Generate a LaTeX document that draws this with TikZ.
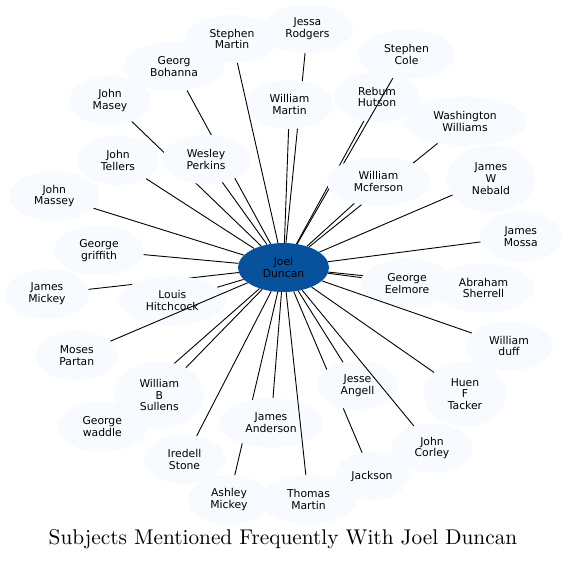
\documentclass[tikz,border=0pt]{standalone}
\usepackage{fontspec}
\newfontfamily\nodefont{DejaVu Sans}
\newfontfamily\titlefont{lmroman10-regular}[Extension=.otf]
\usetikzlibrary{shapes.geometric}
\definecolor{nodefill}{HTML}{F7FBFF}
\definecolor{centerfill}{HTML}{08519C}
\pgfdeclarelayer{under}
\pgfdeclarelayer{over}
\pgfdeclarelayer{top}
\pgfsetlayers{under,main,over,top}
\tikzset{
  person/.style={ellipse, fill=nodefill, inner sep=0pt, align=center,
    font=\nodefont\fontsize{10.8}{11.8}\selectfont},
  sz/.style 2 args={minimum width=#1pt, minimum height=#2pt},
  link/.style={draw=black, line width=0.9pt},
  titletext/.style={inner sep=0pt, font=\titlefont\fontsize{21.3}{24}\selectfont}
}
\begin{document}
\begin{tikzpicture}[x=1pt,y=-1pt]
\useasboundingbox (0,0) rectangle (567,560);
% nodes
\node[person, sz={91}{49}, fill=centerfill] (joel) at (283.5,267.5) {Joel\\Duncan};
\node[person, sz={94}{48}] (smartin) at (232,39) {Stephen\\Martin};
\node[person, sz={91}{48}] (jrodgers) at (307.5,29) {Jessa\\Rodgers};
\node[person, sz={97}{49}] (scole) at (406.5,54.5) {Stephen\\Cole};
\node[person, sz={100}{49}] (gbohanna) at (174,66.5) {Georg\\Bohanna};
\node[person, sz={87}{49}] (wmartin) at (289.5,104.5) {William\\Martin};
\node[person, sz={86}{50}] (rhutson) at (377,97) {Rebum\\Hutson};
\node[person, sz={82}{49}] (jmasey) at (110,100.5) {John\\Masey};
\node[person, sz={123}{49}] (wwilliams) at (465,121.3) {Washington\\Williams};
\node[person, sz={88}{49}] (wperkins) at (206,159.5) {Wesley\\Perkins};
\node[person, sz={82}{49}] (jtellers) at (118,160.5) {John\\Tellers};
\begin{pgfonlayer}{top}
\node[person, sz={103}{49}] (mcferson) at (378.5,181.5) {William\\Mcferson};
\end{pgfonlayer}
\node[person, sz={88}{67}] (nebald) at (491,178.5) {James\\W\\Nebald};
\node[person, sz={90}{49}] (jmassey) at (54.3,196) {John\\Massey};
\node[person, sz={82}{50}] (jmossa) at (520.8,236.7) {James\\Mossa};
\node[person, sz={90}{49}] (ggriffith) at (99,250.5) {George\\griffith};
\node[person, sz={101}{49}] (sherrell) at (483.5,288) {Abraham\\Sherrell};
\node[person, sz={93}{49}] (eelmore) at (407,283.5) {George\\Eelmore};
\node[person, sz={84}{50}] (jmickey) at (47,294) {James\\Mickey};
\node[person, sz={107}{49}] (hitchcock) at (172.3,300.7) {Louis\\Hitchcock};
\node[person, sz={87}{49}] (duff) at (509,346) {William\\duff};
\node[person, sz={82}{49}] (partan) at (76.8,355.5) {Moses\\Partan};
\node[person, sz={80}{49}] (angell) at (357.5,385.3) {Jesse\\Angell};
\node[person, sz={82}{65}] (tacker) at (465,394) {Huen\\F\\Tacker};
\node[person, sz={90}{50}] (waddle) at (102.3,426.7) {George\\waddle};
\node[person, sz={90}{67}] (sullens) at (159.3,395) {William\\B\\Sullens};
\node[person, sz={104}{49}] (anderson) at (271,422.8) {James\\Anderson};
\node[person, sz={81}{49}] (corley) at (432,448) {John\\Corley};
\node[person, sz={81}{49}] (istone) at (184.5,459.5) {Iredell\\Stone};
\node[person, sz={74}{48}] (jackson) at (372,476) {Jackson};
\node[person, sz={82}{49}] (amickey) at (229,499.7) {Ashley\\Mickey};
\node[person, sz={96}{49}] (tmartin) at (308.5,499.7) {Thomas\\Martin};
\node[titletext] (title) at (283,539) {Subjects Mentioned Frequently With Joel Duncan};
% edges hidden under other nodes
\begin{pgfonlayer}{under}
\draw[link] (joel) -- (jmasey);
\draw[link] (joel) -- (gbohanna);
\draw[link] (joel) -- (jrodgers);
\draw[link] (joel) -- (jmickey);
\draw[link] (joel) -- (waddle);
\draw[link] (joel) -- (amickey);
\draw[link] (joel) -- (jackson);
\draw[link] (joel) -- (sherrell);
\end{pgfonlayer}
% edges drawn over nodes
\begin{pgfonlayer}{over}
\draw[link] (joel) -- (smartin);
\draw[link] (joel) -- (scole);
\draw[link] (joel) -- (wmartin);
\draw[link] (joel) -- (rhutson);
\draw[link] (joel) -- (wwilliams);
\draw[link] (joel) -- (wperkins);
\draw[link] (joel) -- (jtellers);
\draw[link] (joel) -- (mcferson);
\draw[link] (joel) -- (nebald);
\draw[link] (joel) -- (jmassey);
\draw[link] (joel) -- (jmossa);
\draw[link] (joel) -- (ggriffith);
\draw[link] (joel) -- (eelmore);
\draw[link] (joel) -- (hitchcock);
\draw[link] (joel) -- (duff);
\draw[link] (joel) -- (partan);
\draw[link] (joel) -- (angell);
\draw[link] (joel) -- (tacker);
\draw[link] (joel) -- (sullens);
\draw[link] (joel) -- (anderson);
\draw[link] (joel) -- (corley);
\draw[link] (joel) -- (istone);
\draw[link] (joel) -- (tmartin);
\end{pgfonlayer}
\end{tikzpicture}
\end{document}
